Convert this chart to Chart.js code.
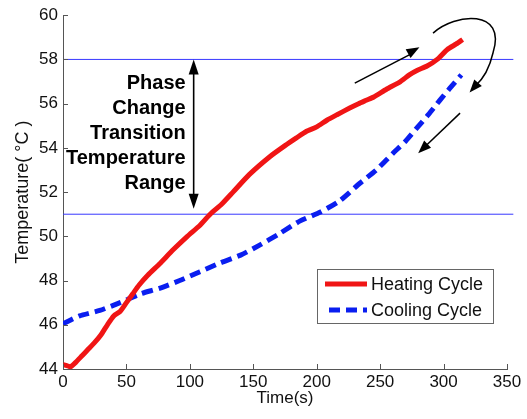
<!DOCTYPE html>
<html>
<head>
<meta charset="utf-8">
<script src="https://cdn.jsdelivr.net/npm/chart.js@4.4.1/dist/chart.umd.min.js"></script>
<style>
  html, body { margin: 0; padding: 0; background: #fff; }
</style>
</head>
<body>
<canvas id="tempChart" width="527" height="419"></canvas>
<script>
// time (s) and temperature (°C) for each cycle
const heatTime = [0, 3, 6, 10, 15, 20, 25, 30, 35, 40, 45, 50, 55, 60, 67, 76, 87, 98, 108, 116, 125, 134, 147, 163, 175, 184, 192, 200, 208, 216, 226, 233, 239, 245, 255, 266, 273, 279, 287, 295, 303, 310, 315];
const heatTemp = [44.2, 44.15, 44.1, 44.3, 44.6, 44.9, 45.2, 45.55, 46.0, 46.4, 46.6, 47.0, 47.4, 47.8, 48.25, 48.75, 49.4, 50.0, 50.5, 51.0, 51.45, 52.0, 52.8, 53.6, 54.1, 54.45, 54.75, 54.95, 55.25, 55.5, 55.8, 56.0, 56.15, 56.3, 56.65, 57.0, 57.3, 57.5, 57.7, 58.0, 58.45, 58.7, 58.9];
const coolTime = [0, 13, 29, 45, 61, 76, 92, 108, 124, 140, 155, 170, 187, 203, 218, 234, 247, 260, 270, 279, 288, 297, 305, 314];
const coolTemp = [46.05, 46.4, 46.65, 47.0, 47.4, 47.65, 48.0, 48.4, 48.8, 49.15, 49.6, 50.1, 50.7, 51.1, 51.6, 52.4, 53.0, 53.75, 54.3, 54.9, 55.5, 56.15, 56.7, 57.3];
const seriesNames = ['Heating Cycle', 'Cooling Cycle'];

// phase change band limits
const rangeLow = 51;
const rangeHigh = 58;
const rangeText = ['Phase', 'Change', 'Transition', 'Temperature', 'Range'];

const FONT = "'Liberation Sans', Arial, Helvetica, sans-serif";
const RED = '#f01515';
const BLUE = '#0a1ef0';

function pairs(xs, ys) {
    return xs.map((x, i) => ({ x: x, y: ys[i] }));
}

function arrowHead(ctx, tipX, tipY, fromX, fromY, len, half) {
    const a = Math.atan2(tipY - fromY, tipX - fromX);
    ctx.beginPath();
    ctx.moveTo(tipX, tipY);
    ctx.lineTo(tipX - len * Math.cos(a) + half * Math.sin(a), tipY - len * Math.sin(a) - half * Math.cos(a));
    ctx.lineTo(tipX - len * Math.cos(a) - half * Math.sin(a), tipY - len * Math.sin(a) + half * Math.cos(a));
    ctx.closePath();
    ctx.fill();
}

// ticks inside the axes, arrows, band label and legend box
const decorations = {
    id: 'decorations',
    afterDatasetsDraw(chart) {
        const { ctx, chartArea, scales: { x, y } } = chart;
        const px = v => x.getPixelForValue(v);
        const py = v => y.getPixelForValue(v);
        ctx.save();

        ctx.strokeStyle = '#555';
        ctx.lineWidth = 1;
        ctx.beginPath();
        x.ticks.forEach(t => {
            const p = Math.round(px(t.value)) + 0.5;
            ctx.moveTo(p, chartArea.bottom);
            ctx.lineTo(p, chartArea.bottom - 5);
        });
        y.ticks.forEach(t => {
            const p = Math.round(py(t.value)) + 0.5;
            ctx.moveTo(chartArea.left, p);
            ctx.lineTo(chartArea.left + 5, p);
        });
        ctx.stroke();

        // double arrow spanning the transition band
        ctx.strokeStyle = '#000';
        ctx.fillStyle = '#000';
        ctx.lineWidth = 1.6;
        const ax = px(103);
        const top = py(rangeHigh);
        const bot = py(rangeLow + 0.25);
        ctx.beginPath();
        ctx.moveTo(ax, top + 10);
        ctx.lineTo(ax, bot - 10);
        ctx.stroke();
        arrowHead(ctx, ax, top, ax, top + 10, 15, 5);
        arrowHead(ctx, ax, bot, ax, bot - 10, 15, 5);

        ctx.font = 'bold 20px ' + FONT;
        ctx.textAlign = 'right';
        ctx.textBaseline = 'middle';
        const mid = (top + bot) / 2 - 0.5;
        rangeText.forEach((s, i) => {
            ctx.fillText(s, ax - 8, mid + (i - 2) * 25.2);
        });

        // direction arrows
        ctx.lineWidth = 1.5;
        ctx.beginPath();
        ctx.moveTo(px(230), py(56.93));
        ctx.lineTo(px(276), py(58.3));
        ctx.stroke();
        arrowHead(ctx, px(281), py(58.55), px(230), py(56.93), 13, 5);

        ctx.beginPath();
        ctx.moveTo(px(291.7), py(59.19));
        ctx.bezierCurveTo(px(309), py(60.1), px(350), py(60.3), px(339), py(58.3));
        ctx.quadraticCurveTo(px(335), py(57.3), px(325), py(56.8));
        ctx.stroke();
        arrowHead(ctx, px(320.5), py(56.5), px(331), py(57.2), 13, 5);

        ctx.beginPath();
        ctx.moveTo(px(313), py(55.57));
        ctx.lineTo(px(284), py(53.98));
        ctx.stroke();
        arrowHead(ctx, px(280), py(53.76), px(313), py(55.57), 13, 5);

        // legend box
        const lx = chartArea.right - 190;
        const ly = chartArea.bottom - 100;
        ctx.fillStyle = '#fff';
        ctx.fillRect(lx, ly, 176, 54);
        ctx.strokeStyle = '#666';
        ctx.lineWidth = 1;
        ctx.strokeRect(lx + 0.5, ly + 0.5, 176, 54);
        chart.data.datasets.slice(0, 2).forEach((ds, i) => {
            const yy = ly + 15 + i * 26;
            ctx.strokeStyle = ds.borderColor;
            ctx.lineWidth = ds.borderWidth;
            ctx.setLineDash(ds.borderDash || []);
            ctx.beginPath();
            ctx.moveTo(lx + (i ? 12 : 8), yy);
            ctx.lineTo(lx + 50, yy);
            ctx.stroke();
            ctx.setLineDash([]);
            ctx.fillStyle = '#111';
            ctx.font = '18px ' + FONT;
            ctx.textAlign = 'left';
            ctx.fillText(ds.label, lx + 54, yy + 1);
        });
        ctx.restore();
    }
};

const bandLine = v => ({
    label: 'band',
    data: [{ x: 0, y: v }, { x: 355, y: v }],
    borderColor: '#3838ff',
    borderWidth: 1,
    pointRadius: 0,
    clip: false
});

new Chart(document.getElementById('tempChart'), {
    type: 'line',
    data: {
        datasets: [{
            label: seriesNames[0],
            data: pairs(heatTime, heatTemp),
            borderColor: RED,
            borderWidth: 5,
            pointRadius: 0,
            tension: 0.2
        }, {
            label: seriesNames[1],
            data: pairs(coolTime, coolTemp),
            borderColor: BLUE,
            borderWidth: 5,
            borderDash: [11, 6],
            pointRadius: 0,
            tension: 0.2
        }, bandLine(rangeHigh), bandLine(rangeLow)]
    },
    options: {
        responsive: false,
        animation: false,
        layout: { padding: { top: 15, right: 20, left: 0, bottom: 0 } },
        plugins: {
            legend: { display: false },
            tooltip: { enabled: false }
        },
        scales: {
            x: {
                type: 'linear',
                min: 0,
                max: 350,
                ticks: { stepSize: 50, color: '#111', font: { size: 17, family: FONT }, padding: 3, maxRotation: 0 },
                grid: { display: false, drawTicks: false },
                border: { color: '#555', width: 1 },
                title: { display: true, text: 'Time(s)', color: '#111', font: { size: 17, family: FONT }, padding: { top: 0, bottom: 10 } },
                afterFit: s => { s.height = 50; }
            },
            y: {
                min: 44,
                max: 60,
                ticks: { stepSize: 2, color: '#111', font: { size: 17, family: FONT }, padding: 5 },
                grid: { display: false, drawTicks: false },
                border: { color: '#555', width: 1 },
                title: { display: true, text: 'Temperature( °C )', color: '#111', font: { size: 18, family: FONT }, padding: { top: 12, bottom: 0 } },
                afterFit: s => { s.width = 63; }
            }
        }
    },
    plugins: [decorations]
});
</script>
</body>
</html>
